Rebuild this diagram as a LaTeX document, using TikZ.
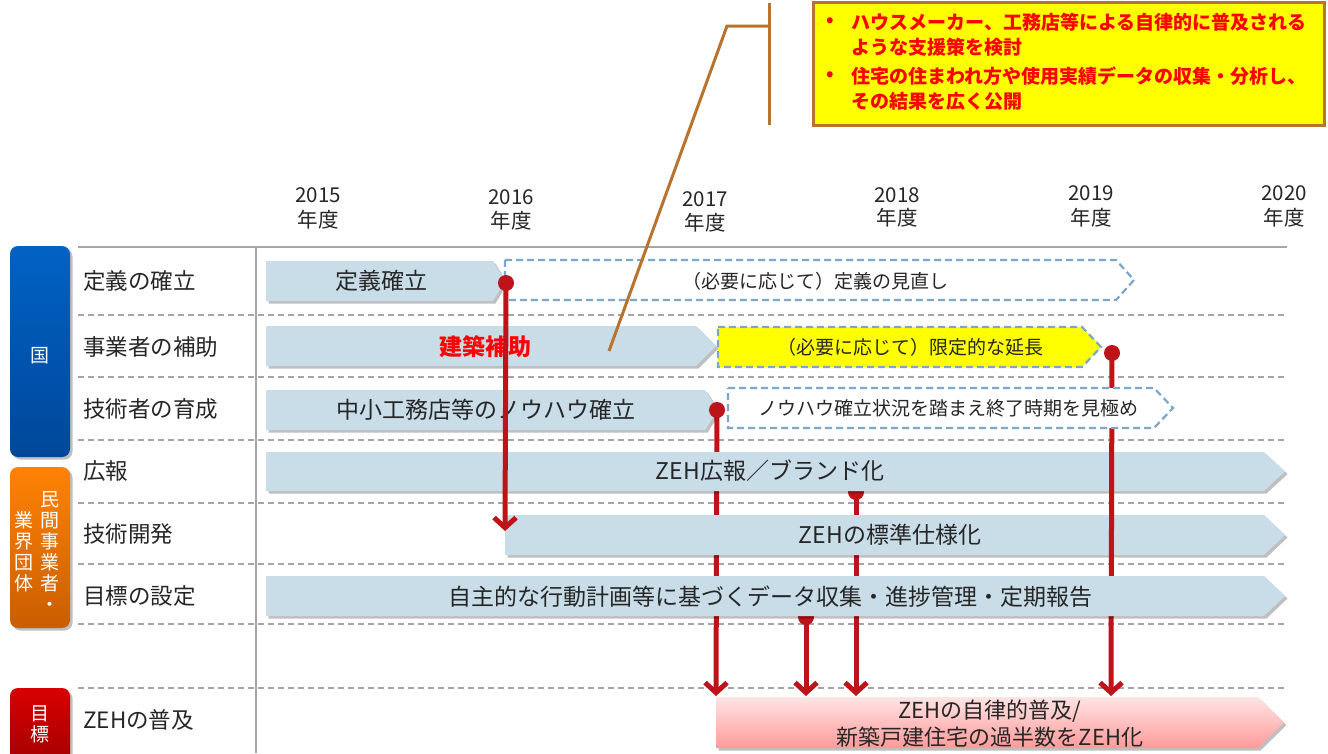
\documentclass[tikz,border=0pt]{standalone}
\usepackage{fontspec}
\setmainfont{Noto Sans CJK JP}
\usetikzlibrary{arrows.meta,shadows}
\definecolor{barblue}{HTML}{C9DDE9}
\definecolor{dashblue}{HTML}{7BA7CB}
\definecolor{conred}{HTML}{BE1319}
\definecolor{callbrown}{HTML}{B8732F}
\definecolor{txt}{HTML}{262626}
\definecolor{gridgray}{HTML}{A6A6A6}
\definecolor{kuniTop}{HTML}{0062C4}
\definecolor{kuniBot}{HTML}{00479A}
\definecolor{minTop}{HTML}{FF8205}
\definecolor{minBot}{HTML}{C95E00}
\definecolor{mokTop}{HTML}{D80000}
\definecolor{mokBot}{HTML}{A00000}
\definecolor{pinkTop}{HTML}{FFE4E4}
\definecolor{pinkBot}{HTML}{FF9A9A}
\definecolor{callyellow}{HTML}{FFFF00}
\definecolor{calltext}{HTML}{FF0000}
\newcommand{\zehbar}[6]{\path[#1] (#2,#4) -- ({#3-#6},#4) -- (#3,{(#4+#5)/2}) -- ({#3-#6},#5) -- (#2,#5) -- cycle;}
\tikzset{
 gridline/.style={draw=gridgray, line width=1.3pt},
 griddash/.style={draw=gridgray, line width=1.2pt, dash pattern=on 6pt off 4pt},
 lbl/.style={anchor=west, inner sep=0, text=txt, font=\fontsize{22.5}{26}\selectfont},
 yr/.style={inner sep=0, text=txt, font=\fontsize{20.5}{24}\selectfont},
 softshadow/.style={drop shadow={shadow xshift=2.5pt, shadow yshift=-2.5pt, fill=black, opacity=0.25}},
 barb/.style={fill=barblue, softshadow},
 dbox/.style={draw=dashblue, line width=2.2pt, dash pattern=on 7pt off 4pt, fill=white},
 ybox/.style={dbox, fill=callyellow},
 pbar/.style={top color=pinkTop, bottom color=pinkBot, softshadow},
 btxt/.style={inner sep=0, text=txt, font=\fontsize{23}{27}\selectfont},
 stxt/.style={inner sep=0, text=txt, font=\fontsize{19}{22}\selectfont},
 conn/.style={draw=conred, line width=5pt},
 connarrow/.style={conn, -{Straight Barb[length=10pt, width=22pt]}},
 dotc/.style={fill=conred},
 cat/.style={rounded corners=8pt, minimum width=60pt, inner sep=0, text=white, font=\fontsize{19}{22}\selectfont, softshadow},
 vtxt/.style={inner sep=0, text=white, align=center, font=\fontsize{19}{21}\selectfont},
 callline/.style={draw=callbrown, line width=3pt},
 ctext/.style={anchor=west, inner sep=0, text=calltext, font=\bfseries\fontsize{19}{22}\selectfont},
}
\begin{document}
\begin{tikzpicture}[x=1pt,y=-1pt]
\useasboundingbox (0,0) rectangle (1328,753);
\fill[white] (0,0) rectangle (1328,753);

% grid
\draw[gridline] (78,247) -- (1287,247);
\draw[gridline] (256,247) -- (256,753);
\foreach \yy in {315,377,440,503,564,624,688}
  \draw[griddash] (78,\yy) -- (1287,\yy);

% years
\foreach \xx/\yt/\yb/\yl in {318/195/220/2015, 511/197/221/2016, 705/199/223/2017, 897/195/218/2018, 1091/193/218/2019, 1284/193/218/2020}{
  \node[yr] (y\yl) at (\xx,\yt) {\yl};
  \node[yr] (n\yl) at (\xx,\yb) {年度};
}

% category boxes
\node[cat, top color=kuniTop, bottom color=kuniBot, minimum height=211pt] (kuni) at (40,351.5) {};
\node[vtxt] (kunit) at (40,356) {国};
\node[cat, top color=minTop, bottom color=minBot, minimum height=161pt] (min) at (40,547.5) {};
\node[vtxt, anchor=north] (minR) at (50,491) {民\\間\\事\\業\\者\\・};
\node[vtxt, anchor=north] (minL) at (24,511) {業\\界\\団\\体};
\node[cat, top color=mokTop, bottom color=mokBot, minimum height=80pt] (mok) at (40,728) {};
\node[vtxt] (mokt) at (40,724) {目\\標};

% row labels
\node[lbl] (l1) at (83,281) {定義の確立};
\node[lbl] (l2) at (83,347) {事業者の補助};
\node[lbl] (l3) at (83,409) {技術者の育成};
\node[lbl] (l4) at (83,471) {広報};
\node[lbl] (l5) at (83,534) {技術開発};
\node[lbl] (l6) at (83,596) {目標の設定};
\node[lbl] (l8) at (83,720) {ZEHの普及};

% coordinates for connectors
\coordinate (A1) at (506,283); \coordinate (A2) at (505,531);
\coordinate (B1) at (717,410); \coordinate (B2) at (716,696);
\coordinate (C1) at (1112,353); \coordinate (C2) at (1111,696);
\coordinate (D1) at (806,617); \coordinate (D2) at (806,696);
\coordinate (E1) at (856,492); \coordinate (E2) at (856,696);

% pink goal bar
\zehbar{pbar}{716}{1284}{697}{748}{26}
\node[btxt, align=center, font=\fontsize{22}{27}\selectfont] (goal) at (990,724) {ZEHの自律的普及/\\新築戸建住宅の過半数をZEH化};

% connectors behind bars
\fill[dotc] (D1) circle[radius=8pt];
\fill[dotc] (E1) circle[radius=8pt];
\draw[connarrow] (B1) -- (B2);
\draw[connarrow] (D1) -- (D2);
\draw[connarrow] (E1) -- (E2);

% rows 4,5
\zehbar{barb}{266}{1285}{452}{491}{21}
\node[btxt] (t4) at (770,471) {ZEH広報／ブランド化};
\zehbar{barb}{505}{1285}{515}{555}{21}
\node[btxt] (t5) at (890,535) {ZEHの標準仕様化};

% connector C
\draw[connarrow] (C1) -- (C2);

% row 6
\zehbar{barb}{266}{1285}{576}{616}{21}
\node[btxt] (t6) at (770,597) {自主的な行動計画等に基づくデータ収集・進捗管理・定期報告};

% rows 1-3
\zehbar{barb}{266}{505}{261}{301}{12}
\node[btxt] (t1) at (381,281) {定義確立};
\zehbar{dbox}{505}{1134}{260}{300}{18}
\node[stxt] (t1b) at (815,281) {（必要に応じて）定義の見直し};
\zehbar{barb}{266}{716}{326}{366}{20}
\node[btxt, text=calltext, font=\bfseries\fontsize{23}{27}\selectfont] (t2) at (485,347) {建築補助};
\zehbar{ybox}{718}{1101}{327}{367}{19}
\node[stxt] (t2b) at (910,347) {（必要に応じて）限定的な延長};
\zehbar{barb}{266}{718}{390}{430}{13}
\node[btxt] (t3) at (486,410) {中小工務店等のノウハウ確立};
\zehbar{dbox}{728}{1173}{388}{428}{19}
\node[stxt] (t3b) at (948,408) {ノウハウ確立状況を踏まえ終了時期を見極め};

% connector A and dots
\draw[connarrow] (A1) -- (A2);
\fill[dotc] (A1) circle[radius=8pt];
\fill[dotc] (B1) circle[radius=8pt];
\fill[dotc] (C1) circle[radius=8pt];

% callout
\coordinate (cl1) at (609,351); \coordinate (cl2) at (727,26); \coordinate (cl3) at (769,26);
\coordinate (cb1) at (769,3); \coordinate (cb2) at (769,125);
\draw[callline, line join=miter] (cl1) -- (cl2) -- (cl3);
\draw[callline] (cb1) -- (cb2);
\path[callline, fill=callyellow] (813,2.5) rectangle (1324,125);
\node[ctext] (cbul1) at (826,22) {•};
\node[ctext] (c1) at (851,22) {ハウスメーカー、工務店等による自律的に普及される};
\node[ctext] (c2) at (851,47) {ような支援策を検討};
\node[ctext] (cbul2) at (826,76) {•};
\node[ctext] (c3) at (851,76) {住宅の住まわれ方や使用実績データの収集・分析し、};
\node[ctext] (c4) at (851,101) {その結果を広く公開};
\end{tikzpicture}
\end{document}
